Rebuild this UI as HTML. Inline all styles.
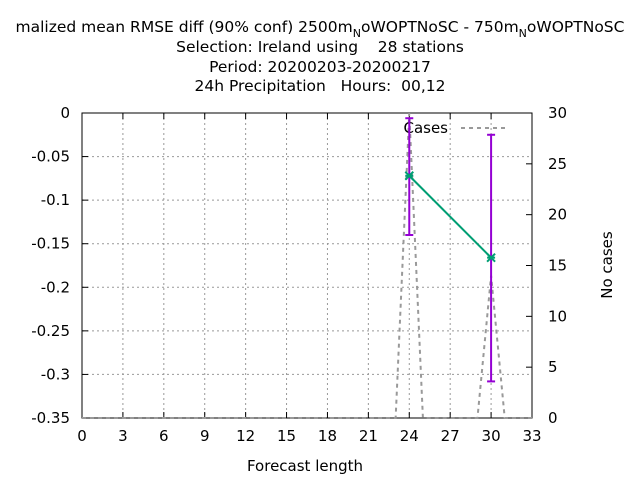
<!DOCTYPE html>
<html><head><meta charset="utf-8"><style>
body{margin:0;background:#fff;}
svg{display:block;font-family:"DejaVu Sans","Liberation Sans",sans-serif;}
svg text{white-space:pre;}
</style></head><body>
<svg id="c" width="640" height="480">
<g font-size="15.5" text-anchor="middle" fill="#000">
<text x="320" y="32">malized mean RMSE diff (90% conf) 2500m<tspan font-size="11" dy="5">N</tspan><tspan dy="-5">oWOPTNoSC - 750m</tspan><tspan font-size="11" dy="5">N</tspan><tspan dy="-5">oWOPTNoSC</tspan></text>
<text x="320" y="52">Selection: Ireland using    28 stations</text>
<text x="320" y="72">Period: 20200203-20200217</text>
<text x="320" y="91">24h Precipitation   Hours:  00,12</text>
</g>
<g id="grid"></g><g id="axes"></g><g id="marks"></g>
<text x="305" y="471" font-size="15" text-anchor="middle">Forecast length</text>
<text transform="translate(612,265) rotate(-90)" font-size="15" text-anchor="middle">No cases</text>
</svg>
<script>
const leadTimes=[24,30];
const diffMean=[-0.072,-0.166];
const diffLow=[-0.14,-0.308];
const diffHigh=[-0.006,-0.025];
const caseX=[0,23,24,25,29,30,31,33];
const caseN=[0,0,30,0,0,14,0,0];
const xTicks=[0,3,6,9,12,15,18,21,24,27,30,33];
const yTicks=[0,-0.05,-0.1,-0.15,-0.2,-0.25,-0.3,-0.35];
const y2Ticks=[0,5,10,15,20,25,30];
const L=82,R=532,T=113,B=418;
const X=v=>L+(v-0)/33*(R-L);
const Y=v=>T+(0-v)/0.35*(B-T);
const Y2=v=>B-v/30*(B-T);
const NS="http://www.w3.org/2000/svg";
function mk(p,tag,a){const e=document.createElementNS(NS,tag);for(const k in a)e.setAttribute(k,a[k]);p.appendChild(e);return e;}
const g=document.getElementById('grid'),ax=document.getElementById('axes'),m=document.getElementById('marks');
xTicks.forEach(t=>{const x=X(t);
 if(t>0&&t<33){const l=mk(g,'line',{x1:x,x2:x,y1:T,y2:B,stroke:'#999','stroke-dasharray':'2,3','stroke-width':1});
 
 }
 mk(ax,'line',{x1:x,x2:x,y1:B,y2:B-6,stroke:'#000'});mk(ax,'line',{x1:x,x2:x,y1:T,y2:T+6,stroke:'#000'});
 const tx=mk(ax,'text',{x:x,y:B+23,'font-size':15,'text-anchor':'middle'});tx.textContent=t;
 
 });
yTicks.forEach(t=>{const y=Y(t);
 if(t<0&&t>-0.35){const l=mk(g,'line',{x1:L,x2:R,y1:y,y2:y,stroke:'#999','stroke-dasharray':'2,3','stroke-width':1});
 
 }
 mk(ax,'line',{x1:L,x2:L+6,y1:y,y2:y,stroke:'#000'});
 const tx=mk(ax,'text',{x:L-12,y:y+5,'font-size':15,'text-anchor':'end'});tx.textContent=t;
 
 });
y2Ticks.forEach(t=>{const y=Y2(t);
 mk(ax,'line',{x1:R,x2:R-6,y1:y,y2:y,stroke:'#000'});
 const tx=mk(ax,'text',{x:R+16,y:y+5,'font-size':15,'text-anchor':'start'});tx.textContent=t;
 
 });
const fr=mk(ax,'rect',{x:L,y:T,width:R-L,height:B-T,fill:'none',stroke:'#000'});


const cp=mk(m,'polyline',{points:caseX.map((v,i)=>X(v)+','+Y2(caseN[i])).join(' '),fill:'none',stroke:'#999','stroke-width':2,'stroke-dasharray':'4,4'});


const lt=mk(m,'text',{x:448,y:133,'font-size':15,'text-anchor':'end'});lt.textContent='Cases';


const ll=mk(m,'line',{x1:461,x2:505,y1:128,y2:128,stroke:'#999','stroke-width':2,'stroke-dasharray':'4,4'});


leadTimes.forEach((v,i)=>{const x=X(v);
 const eb=mk(m,'g',{stroke:'#9400d3','stroke-width':2});
 
 
 mk(eb,'line',{x1:x,x2:x,y1:Y(diffLow[i]),y2:Y(diffHigh[i])});
 mk(eb,'line',{x1:x-4,x2:x+4,y1:Y(diffLow[i]),y2:Y(diffLow[i])});
 mk(eb,'line',{x1:x-4,x2:x+4,y1:Y(diffHigh[i]),y2:Y(diffHigh[i])});});
const ml=mk(m,'polyline',{points:leadTimes.map((v,i)=>X(v)+','+Y(diffMean[i])).join(' '),fill:'none',stroke:'#009e73','stroke-width':2});


leadTimes.forEach((v,i)=>{const x=X(v),y=Y(diffMean[i]);
 const p=mk(m,'path',{d:`M${x-4},${y-4}L${x+4},${y+4}M${x-4},${y+4}L${x+4},${y-4}M${x-4},${y}L${x+4},${y}`,stroke:'#009e73','stroke-width':2});
 
 });
</script>
</body></html>
